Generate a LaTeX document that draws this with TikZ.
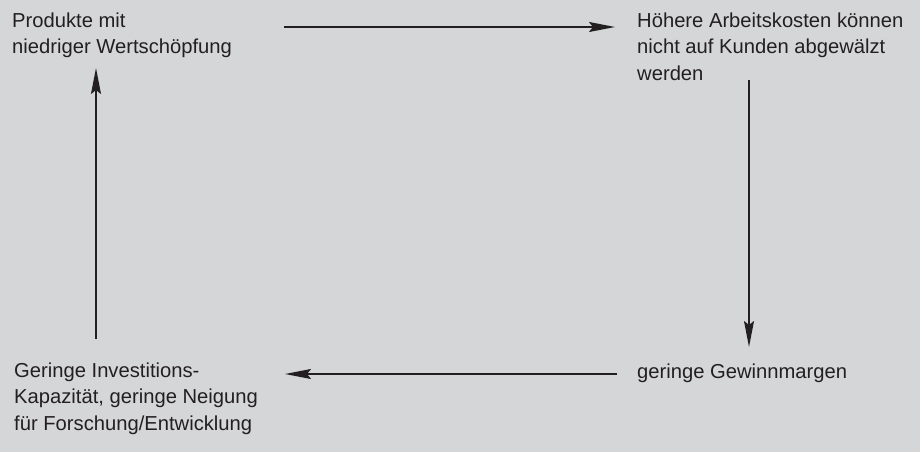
\documentclass[tikz,border=0pt]{standalone}
\usepackage{fontspec}
\setmainfont{Liberation Sans}
\usetikzlibrary{arrows.meta}
\definecolor{bg}{HTML}{D5D6D8}
\definecolor{ink}{HTML}{231F20}
% first-line strut: node top sits 18pt above the first baseline
\newcommand{\firststrut}{\rule[0pt]{0pt}{18pt}}
\tikzset{
  label/.style={anchor=north west, align=left, inner sep=0pt, text=ink,
    font=\fontsize{20.2}{26.5}\selectfont},
  flow/.style={draw=ink, line width=1.8pt,
    -{Stealth[length=26pt, width=10pt, inset=4pt]}}
}
\begin{document}
\begin{tikzpicture}[x=1pt, y=-1pt]
  \fill[bg] (0,0) rectangle (920,452);
  \useasboundingbox (0,0) rectangle (920,452);
  \node[label] (prod) at (12,9) {\firststrut Produkte mit\\niedriger Wertschöpfung};
  \node[label] (kost) at (637,9) {\firststrut Höhere Arbeitskosten können\\nicht auf Kunden abgewälzt\\werden};
  \node[label] (marg) at (637,360) {\firststrut geringe Gewinnmargen};
  \node[label] (inv) at (14,359) {\firststrut Geringe Investitions-\\Kapazität, geringe Neigung\\für Forschung/Entwicklung};
  \coordinate (a1) at (284,27);  \coordinate (a2) at (615,27);
  \coordinate (b1) at (749,80);  \coordinate (b2) at (749,347);
  \coordinate (c1) at (617,374); \coordinate (c2) at (285,374);
  \coordinate (d1) at (96,339);  \coordinate (d2) at (96,68);
  \draw[flow] (a1) -- (a2);
  \draw[flow] (b1) -- (b2);
  \draw[flow] (c1) -- (c2);
  \draw[flow] (d1) -- (d2);
\end{tikzpicture}
\end{document}
